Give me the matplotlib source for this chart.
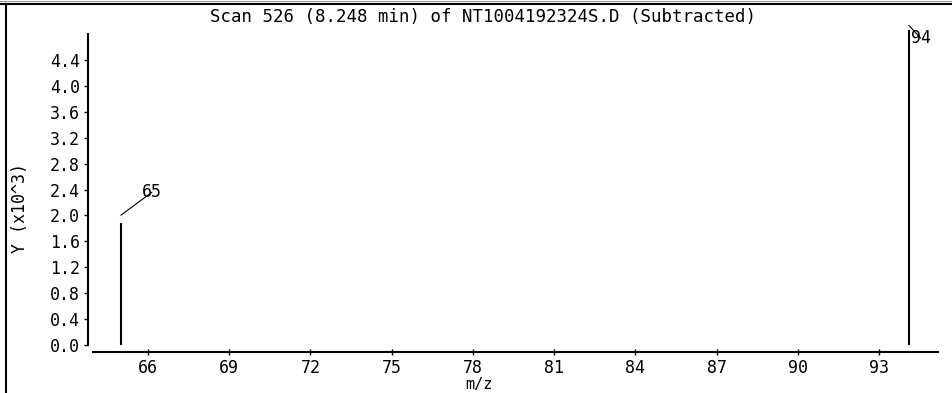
import matplotlib
matplotlib.use('Agg')
import matplotlib.pyplot as plt
from matplotlib.lines import Line2D
from matplotlib.transforms import offset_copy

# peaks (abundance in thousands)
mz = [65.0, 94.1]
abundance = [1.88, 4.86]
peak_labels = ['65', '94']

y_ticks = [0.0, 0.4, 0.8, 1.2, 1.6, 2.0, 2.4, 2.8, 3.2, 3.6, 4.0, 4.4]
x_ticks = [66, 69, 72, 75, 78, 81, 84, 87, 90, 93]

title = 'Scan 526 (8.248 min) of NT1004192324S.D (Subtracted)'

W, H = 953, 393
plt.rcParams['font.family'] = ['DejaVu Sans Mono']
plt.rcParams['font.size'] = 12

fig = plt.figure(figsize=(W / 100, H / 100), dpi=100)
ax = fig.add_axes([93 / W, 48 / H, (938 - 93) / W, (345 - 29.6) / H])

ax.vlines(mz, 0, abundance, color='black', lw=1.5, clip_on=False)

# peak labels with little leader lines
ann_offsets = [((0, 8), (21, 23), 'left', 'center'),
               ((0, 5), (2, -4), 'left', 'top')]
for x, h, lab, (start, txt, ha, va) in zip(mz, abundance, peak_labels, ann_offsets):
    tr = offset_copy(ax.transData, fig=fig, x=start[0], y=start[1], units='dots')
    ax.annotate(lab, xy=(x, h), xycoords=tr, xytext=txt, textcoords='offset pixels',
                ha=ha, va=va, annotation_clip=False,
                arrowprops=dict(arrowstyle='-', lw=0.8, color='black',
                                shrinkA=0, shrinkB=0, patchA=None))

ax.set_xlim(63.97, 95.18)
ax.set_ylim(0, 4.87)
ax.set_xticks(x_ticks)
ax.set_yticks(y_ticks)
ax.set_yticklabels([f'{v:.1f}' for v in y_ticks])

for s in ['top', 'right']:
    ax.spines[s].set_visible(False)
ax.spines['left'].set_bounds(0, 4.8)
ax.spines['left'].set_position(('outward', 3.6))
ax.spines['bottom'].set_position(('outward', 5.0))
ax.spines['left'].set_linewidth(1.5)
ax.spines['bottom'].set_linewidth(1.5)
ax.tick_params(axis='y', direction='out', length=3, width=1, pad=3)
ax.tick_params(axis='x', direction='inout', length=4, width=1, pad=3)
ax.patch.set_visible(False)

fig.text(483 / W, 1 - 17 / H, title, ha='center', va='center', fontsize=12.5)
fig.text(479 / W, 1 - 385 / H, 'm/z', ha='center', va='center', fontsize=11)
fig.text(20 / W, 1 - 208 / H, 'Y (x10^3)', ha='center', va='center', rotation=90)

# window frame
fig.add_artist(Line2D([0, 1], [1 - 0.5 / H, 1 - 0.5 / H], transform=fig.transFigure,
                      color='#999999', lw=0.8))
fig.add_artist(Line2D([0, 1], [1 - 4 / H, 1 - 4 / H], transform=fig.transFigure,
                      color='black', lw=1.5))
fig.add_artist(Line2D([6 / W, 6 / W], [0, 1 - 4 / H], transform=fig.transFigure,
                      color='black', lw=1.5))

fig.savefig('out.png', dpi=100)
